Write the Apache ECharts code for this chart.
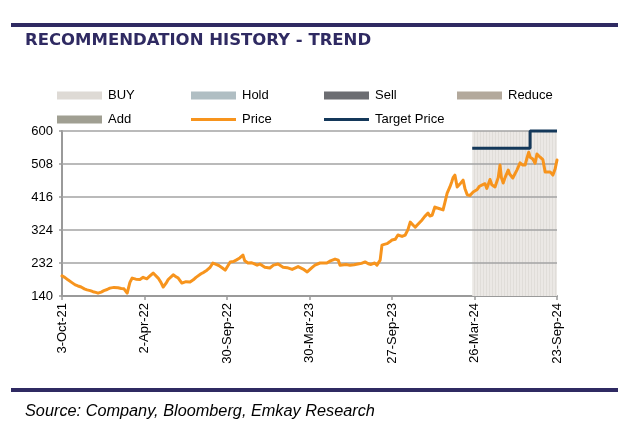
<!DOCTYPE html>
<html><head><meta charset="utf-8">
<script src="https://cdn.jsdelivr.net/npm/echarts@6/dist/echarts.min.js"></script>
<style>html,body{margin:0;padding:0;background:#fff}#c{width:641px;height:437px}</style>
</head><body><div id="c"></div>
<script>
const titleText = 'RECOMMENDATION HISTORY - TREND';
const sourceText = 'Source: Company, Bloomberg, Emkay Research';
const startDate = '2021-10-03';
const endDate = '2024-09-23';
const xTickStepDays = 181;
const yTicks = [140, 232, 324, 416, 508, 600];
const legendNames = ['BUY', 'Hold', 'Sell', 'Reduce', 'Add', 'Price', 'Target Price'];

const priceDates = [
 '2021-10-03','2021-10-09','2021-10-16','2021-10-24','2021-11-01','2021-11-07','2021-11-14','2021-11-21','2021-11-27','2021-12-04','2021-12-10','2021-12-16','2021-12-21',
 '2021-12-28','2022-01-03','2022-01-10','2022-01-16','2022-01-25','2022-02-03','2022-02-10','2022-02-16','2022-02-23','2022-03-01','2022-03-06','2022-03-14','2022-03-23',
 '2022-03-30','2022-04-07','2022-04-14','2022-04-21','2022-05-02','2022-05-08','2022-05-13','2022-05-19','2022-05-24','2022-06-04','2022-06-10','2022-06-15',
 '2022-06-23','2022-07-02','2022-07-11','2022-07-18','2022-07-24','2022-08-04','2022-08-10','2022-08-17','2022-08-24','2022-08-30',
 '2022-09-06','2022-09-12','2022-09-20','2022-09-26','2022-10-07','2022-10-14','2022-10-20','2022-10-28','2022-11-04','2022-11-08','2022-11-15','2022-11-22','2022-11-28',
 '2022-12-05','2022-12-11','2022-12-22','2023-01-02','2023-01-10','2023-01-20','2023-01-31','2023-02-09','2023-02-20',
 '2023-03-05','2023-03-16','2023-03-25','2023-04-05','2023-04-11','2023-04-22','2023-05-07','2023-05-15',
 '2023-05-25','2023-06-01','2023-06-05','2023-06-18','2023-06-27','2023-07-06','2023-07-14','2023-07-22','2023-07-30',
 '2023-08-06','2023-08-12','2023-08-20','2023-08-25','2023-09-01','2023-09-05','2023-09-10','2023-09-16','2023-09-22','2023-09-27','2023-10-04',
 '2023-10-10','2023-10-19','2023-10-26','2023-11-01','2023-11-06','2023-11-12','2023-11-17',
 '2023-11-23','2023-12-02','2023-12-08','2023-12-15','2023-12-19','2023-12-24','2023-12-30',
 '2024-01-08','2024-01-17','2024-01-21','2024-01-26','2024-02-01','2024-02-05','2024-02-08','2024-02-12','2024-02-17',
 '2024-02-23','2024-03-01','2024-03-05','2024-03-10','2024-03-16','2024-03-23','2024-04-01','2024-04-06',
 '2024-04-11','2024-04-18','2024-04-22','2024-04-29','2024-05-03','2024-05-10','2024-05-17',
 '2024-05-21','2024-05-24','2024-05-28','2024-06-01','2024-06-08','2024-06-11','2024-06-14','2024-06-18','2024-06-27',
 '2024-07-04','2024-07-10','2024-07-15','2024-07-19','2024-07-23','2024-07-26','2024-08-01','2024-08-06',
 '2024-08-10','2024-08-17','2024-08-23','2024-08-28','2024-09-01','2024-09-08','2024-09-14',
 '2024-09-19','2024-09-23'
];
const priceValues = [
 196,192,185,178,171,168,165,160,157,155,152,150,148,
 151,155,158,162,164,163,161,160,148,178,190,187,186,
 192,188,196,204,190,178,165,175,186,199,194,190,
 176,180,179,185,192,202,206,212,220,232,
 228,225,218,212,235,236,240,246,254,238,232,233,230,
 226,229,220,218,226,229,220,219,214,
 222,215,207,220,226,232,232,238,
 243,240,226,228,226,227,229,231,235,
 230,228,232,226,240,282,284,286,291,296,298,
 310,306,310,325,346,338,332,
 340,352,362,371,363,365,388,
 384,380,400,427,444,458,470,477,444,
 452,463,440,422,420,430,437,446,
 449,453,440,465,450,444,470,
 505,470,455,470,491,480,478,469,491,
 511,505,505,524,541,527,522,510,
 536,527,520,486,491,486,477,
 495,519
];
const targetDates = ['2024-03-21', '2024-07-26', '2024-07-26', '2024-09-23'];
const targetValues = [552, 552, 600, 600];
const buyPeriod = ['2024-03-21', '2024-09-23'];

const DAY = 86400000;
const t0 = Date.parse(startDate);
const toDay = d => Math.round((Date.parse(d) - t0) / DAY);
const MONTHS = ['Jan','Feb','Mar','Apr','May','Jun','Jul','Aug','Sep','Oct','Nov','Dec'];
const fmtDay = v => {
  const d = new Date(t0 + v * DAY);
  return d.getUTCDate() + '-' + MONTHS[d.getUTCMonth()] + '-' + String(d.getUTCFullYear()).slice(2);
};

const colors = {
  'BUY': '#dedad5', 'Hold': '#b0bec3', 'Sell': '#6c6d72', 'Reduce': '#b3a99c',
  'Add': '#a09f92', 'Price': '#f7941d', 'Target Price': '#14385a'
};

// striped fill for the recommendation band
const stripe = document.createElement('canvas');
stripe.width = 3; stripe.height = 4;
(function () {
  const g = stripe.getContext('2d');
  g.fillStyle = '#ebe8e5'; g.fillRect(0, 0, 3, 4);
  g.fillStyle = '#e0ddd9'; g.fillRect(0, 0, 1, 4);
})();

const legendPos = [[57, 89], [191, 89], [324, 89], [457, 89], [57, 113], [191, 113], [324, 113]];
const legends = legendNames.map((n, i) => ({
  left: legendPos[i][0], top: legendPos[i][1], padding: 0,
  itemWidth: 45, itemHeight: (n === 'Price' || n === 'Target Price') ? 3 : 8, itemGap: 0,
  selectedMode: false,
  textStyle: { fontFamily: 'Liberation Sans, Arial', fontSize: 13, color: '#000', padding: [0, 0, 0, 1] },
  data: [{ name: n, icon: 'rect', itemStyle: { color: colors[n] } }]
}));

const chart = echarts.init(document.getElementById('c'), null, { renderer: 'canvas' });
chart.setOption({
  animation: false,
  backgroundColor: '#fff',
  legend: legends,
  grid: { left: 62, right: 84, top: 131, bottom: 141 },
  xAxis: {
    type: 'value', min: 0, max: toDay(endDate), interval: xTickStepDays,
    axisLine: { show: true, lineStyle: { color: '#9a9a9a', width: 2 } },
    axisTick: { show: true, length: 4, lineStyle: { color: '#9a9a9a', width: 1.5 } },
    splitLine: { show: false },
    axisLabel: {
      rotate: 90, margin: 7, fontFamily: 'Liberation Sans, Arial', fontSize: 13, color: '#000',
      formatter: v => fmtDay(v), showMaxLabel: true, showMinLabel: true
    }
  },
  yAxis: {
    type: 'value', min: yTicks[0], max: yTicks[yTicks.length - 1],
    axisLine: { show: true, lineStyle: { color: '#9a9a9a', width: 2 } },
    axisTick: { show: true, length: 3, customValues: yTicks, lineStyle: { color: '#9a9a9a', width: 1.5 } },
    splitLine: { show: false },
    axisLabel: { customValues: yTicks, margin: 9, fontFamily: 'Liberation Sans, Arial', fontSize: 13, color: '#000' }
  },
  series: [
    { name: 'BUY', type: 'bar', data: [], itemStyle: { color: colors['BUY'] }, z: 1,
      markArea: { silent: true, itemStyle: { color: { image: stripe, repeat: 'repeat' } },
        data: [[{ xAxis: toDay(buyPeriod[0]), yAxis: yTicks[0] }, { xAxis: toDay(buyPeriod[1]), yAxis: yTicks[yTicks.length - 1] }]] } },
    { name: 'Hold', type: 'bar', data: [], itemStyle: { color: colors['Hold'] } },
    { name: 'Sell', type: 'bar', data: [], itemStyle: { color: colors['Sell'] } },
    { name: 'Reduce', type: 'bar', data: [], itemStyle: { color: colors['Reduce'] } },
    { name: 'Add', type: 'bar', data: [], itemStyle: { color: colors['Add'] } },
    { name: 'gridlines', type: 'line', data: [], z: 2,
      markLine: { silent: true, symbol: 'none', label: { show: false },
        lineStyle: { color: '#a3a3a3', width: 1.5, type: 'solid' },
        data: yTicks.slice(1).map(v => ({ yAxis: v })) } },
    { name: 'Target Price', type: 'line', z: 6, clip: false, showSymbol: false, symbol: 'none',
      lineStyle: { color: colors['Target Price'], width: 3 }, itemStyle: { color: colors['Target Price'] },
      data: targetDates.map((d, i) => [toDay(d), targetValues[i]]) },
    { name: 'Price', type: 'line', z: 5, showSymbol: false, symbol: 'none',
      lineStyle: { color: colors['Price'], width: 3, join: 'round', cap: 'round' }, itemStyle: { color: colors['Price'] },
      data: priceDates.map((d, i) => [toDay(d), priceValues[i]]) }
  ],
  graphic: [
    { type: 'rect', shape: { x: 11, y: 23, width: 607, height: 4 }, style: { fill: '#2f2a62' } },
    { type: 'text', left: 25, top: 32, style: { text: titleText, fill: '#2f2a62',
      font: 'bold 16.5px "DejaVu Sans", Verdana, sans-serif' } },
    { type: 'rect', shape: { x: 11, y: 388, width: 607, height: 4 }, style: { fill: '#2f2a62' } },
    { type: 'text', left: 25, top: 403, style: { text: sourceText, fill: '#000',
      font: 'italic 16.3px "Liberation Sans", Arial, sans-serif' } }
  ]
});
</script></body></html>
